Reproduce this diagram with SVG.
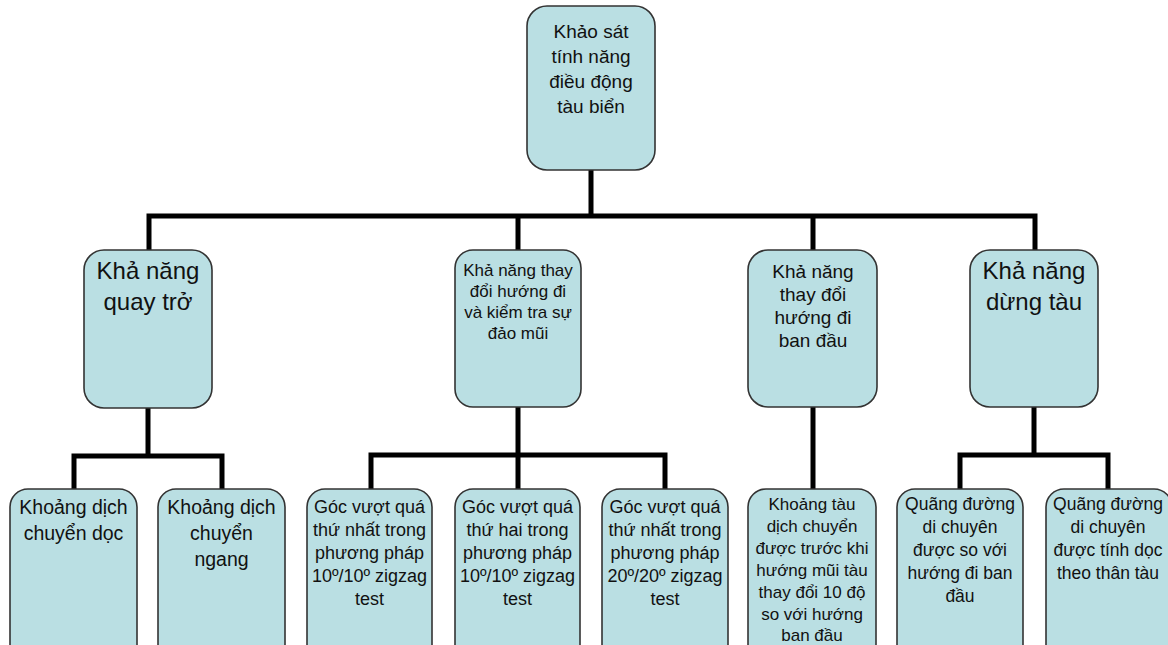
<svg xmlns="http://www.w3.org/2000/svg" width="1168" height="645" viewBox="0 0 1168 645">
<style>
.box{fill:#BADFE3;stroke:#333;stroke-width:1.6}
.t{font-family:"Liberation Sans",Arial,sans-serif;fill:#111;text-anchor:middle}
.c{fill:none;stroke:#000;stroke-width:5;stroke-linejoin:miter;stroke-linecap:square}
</style>
<rect width="1168" height="645" fill="#fff"/>
<g id="connectors">
<path class="c" d="M591 170V216M149 216H1035M149 216V250M518 216V250M813 216V250M1035 216V250"/>
<path class="c" d="M148 408V456M74 456H222M74 456V489M222 456V489"/>
<path class="c" d="M518 407V455M371 455H665M371 455V489M518 455V489M665 455V489"/>
<path class="c" d="M813 407V489"/>
<path class="c" d="M1034 407V455M960 455H1108M960 455V489M1108 455V489"/>
</g>
<g id="root">
<rect class="box" x="527" y="6" width="128" height="164" rx="20"/>
<text class="t" font-size="19"><tspan x="591" y="38">Khảo sát</tspan><tspan x="591" y="63">tính năng</tspan><tspan x="591" y="88">điều động</tspan><tspan x="591" y="113">tàu biển</tspan></text>
</g>
<g id="quay-tro">
<rect class="box" x="84" y="250" width="128" height="158" rx="20"/>
<text class="t" font-size="24"><tspan x="148" y="279">Khả năng</tspan><tspan x="148" y="310">quay trở</tspan></text>
</g>
<g id="thay-doi-dao-mui">
<rect class="box" x="455" y="250" width="126" height="157" rx="18"/>
<text class="t" font-size="17"><tspan x="518" y="276">Khả năng thay</tspan><tspan x="518" y="297">đổi hướng đi</tspan><tspan x="518" y="318">và kiểm tra sự</tspan><tspan x="518" y="339">đảo mũi</tspan></text>
</g>
<g id="thay-doi-ban-dau">
<rect class="box" x="748" y="250" width="129" height="157" rx="20"/>
<text class="t" font-size="19"><tspan x="813" y="278">Khả năng</tspan><tspan x="813" y="301">thay đổi</tspan><tspan x="813" y="324">hướng đi</tspan><tspan x="813" y="347">ban đầu</tspan></text>
</g>
<g id="dung-tau">
<rect class="box" x="970" y="250" width="128" height="157" rx="20"/>
<text class="t" font-size="24"><tspan x="1034" y="279">Khả năng</tspan><tspan x="1034" y="310">dừng tàu</tspan></text>
</g>
<g id="dich-chuyen-doc">
<rect class="box" x="10" y="489" width="127" height="180" rx="18"/>
<text class="t" font-size="19.5"><tspan x="73.5" y="514">Khoảng dịch</tspan><tspan x="73.5" y="540">chuyển dọc</tspan></text>
</g>
<g id="dich-chuyen-ngang">
<rect class="box" x="158" y="489" width="127" height="180" rx="18"/>
<text class="t" font-size="19.5"><tspan x="221.5" y="514">Khoảng dịch</tspan><tspan x="221.5" y="540">chuyển</tspan><tspan x="221.5" y="566">ngang</tspan></text>
</g>
<g id="goc-1-10">
<rect class="box" x="307" y="489" width="125" height="180" rx="18"/>
<text class="t" font-size="18"><tspan x="369.5" y="513">Góc vượt quá</tspan><tspan x="369.5" y="536">thứ nhất trong</tspan><tspan x="369.5" y="559">phương pháp</tspan><tspan x="369.5" y="582">10º/10º zigzag</tspan><tspan x="369.5" y="605">test</tspan></text>
</g>
<g id="goc-2-10">
<rect class="box" x="455" y="489" width="125" height="180" rx="18"/>
<text class="t" font-size="18"><tspan x="517.5" y="513">Góc vượt quá</tspan><tspan x="517.5" y="536">thứ hai trong</tspan><tspan x="517.5" y="559">phương pháp</tspan><tspan x="517.5" y="582">10º/10º zigzag</tspan><tspan x="517.5" y="605">test</tspan></text>
</g>
<g id="goc-1-20">
<rect class="box" x="602" y="489" width="126" height="180" rx="18"/>
<text class="t" font-size="18"><tspan x="665" y="513">Góc vượt quá</tspan><tspan x="665" y="536">thứ nhất trong</tspan><tspan x="665" y="559">phương pháp</tspan><tspan x="665" y="582">20º/20º zigzag</tspan><tspan x="665" y="605">test</tspan></text>
</g>
<g id="khoang-tau">
<rect class="box" x="748" y="489" width="128" height="180" rx="18"/>
<text class="t" font-size="17"><tspan x="812" y="510">Khoảng tàu</tspan><tspan x="812" y="532">dịch chuyển</tspan><tspan x="812" y="554">được trước khi</tspan><tspan x="812" y="576">hướng mũi tàu</tspan><tspan x="812" y="598">thay đổi 10 độ</tspan><tspan x="812" y="620">so với hướng</tspan><tspan x="812" y="641">ban đầu</tspan></text>
</g>
<g id="quang-duong-so">
<rect class="box" x="897" y="489" width="126" height="180" rx="18"/>
<text class="t" font-size="17.5"><tspan x="960" y="510">Quãng đường</tspan><tspan x="960" y="533">di chuyên</tspan><tspan x="960" y="556">được so với</tspan><tspan x="960" y="579">hướng đi ban</tspan><tspan x="960" y="602">đầu</tspan></text>
</g>
<g id="quang-duong-doc">
<rect class="box" x="1046" y="489" width="126" height="180" rx="18"/>
<text class="t" font-size="17.5"><tspan x="1108" y="510">Quãng đường</tspan><tspan x="1108" y="533">di chuyên</tspan><tspan x="1108" y="556">được tính dọc</tspan><tspan x="1108" y="579">theo thân tàu</tspan></text>
</g>
</svg>
